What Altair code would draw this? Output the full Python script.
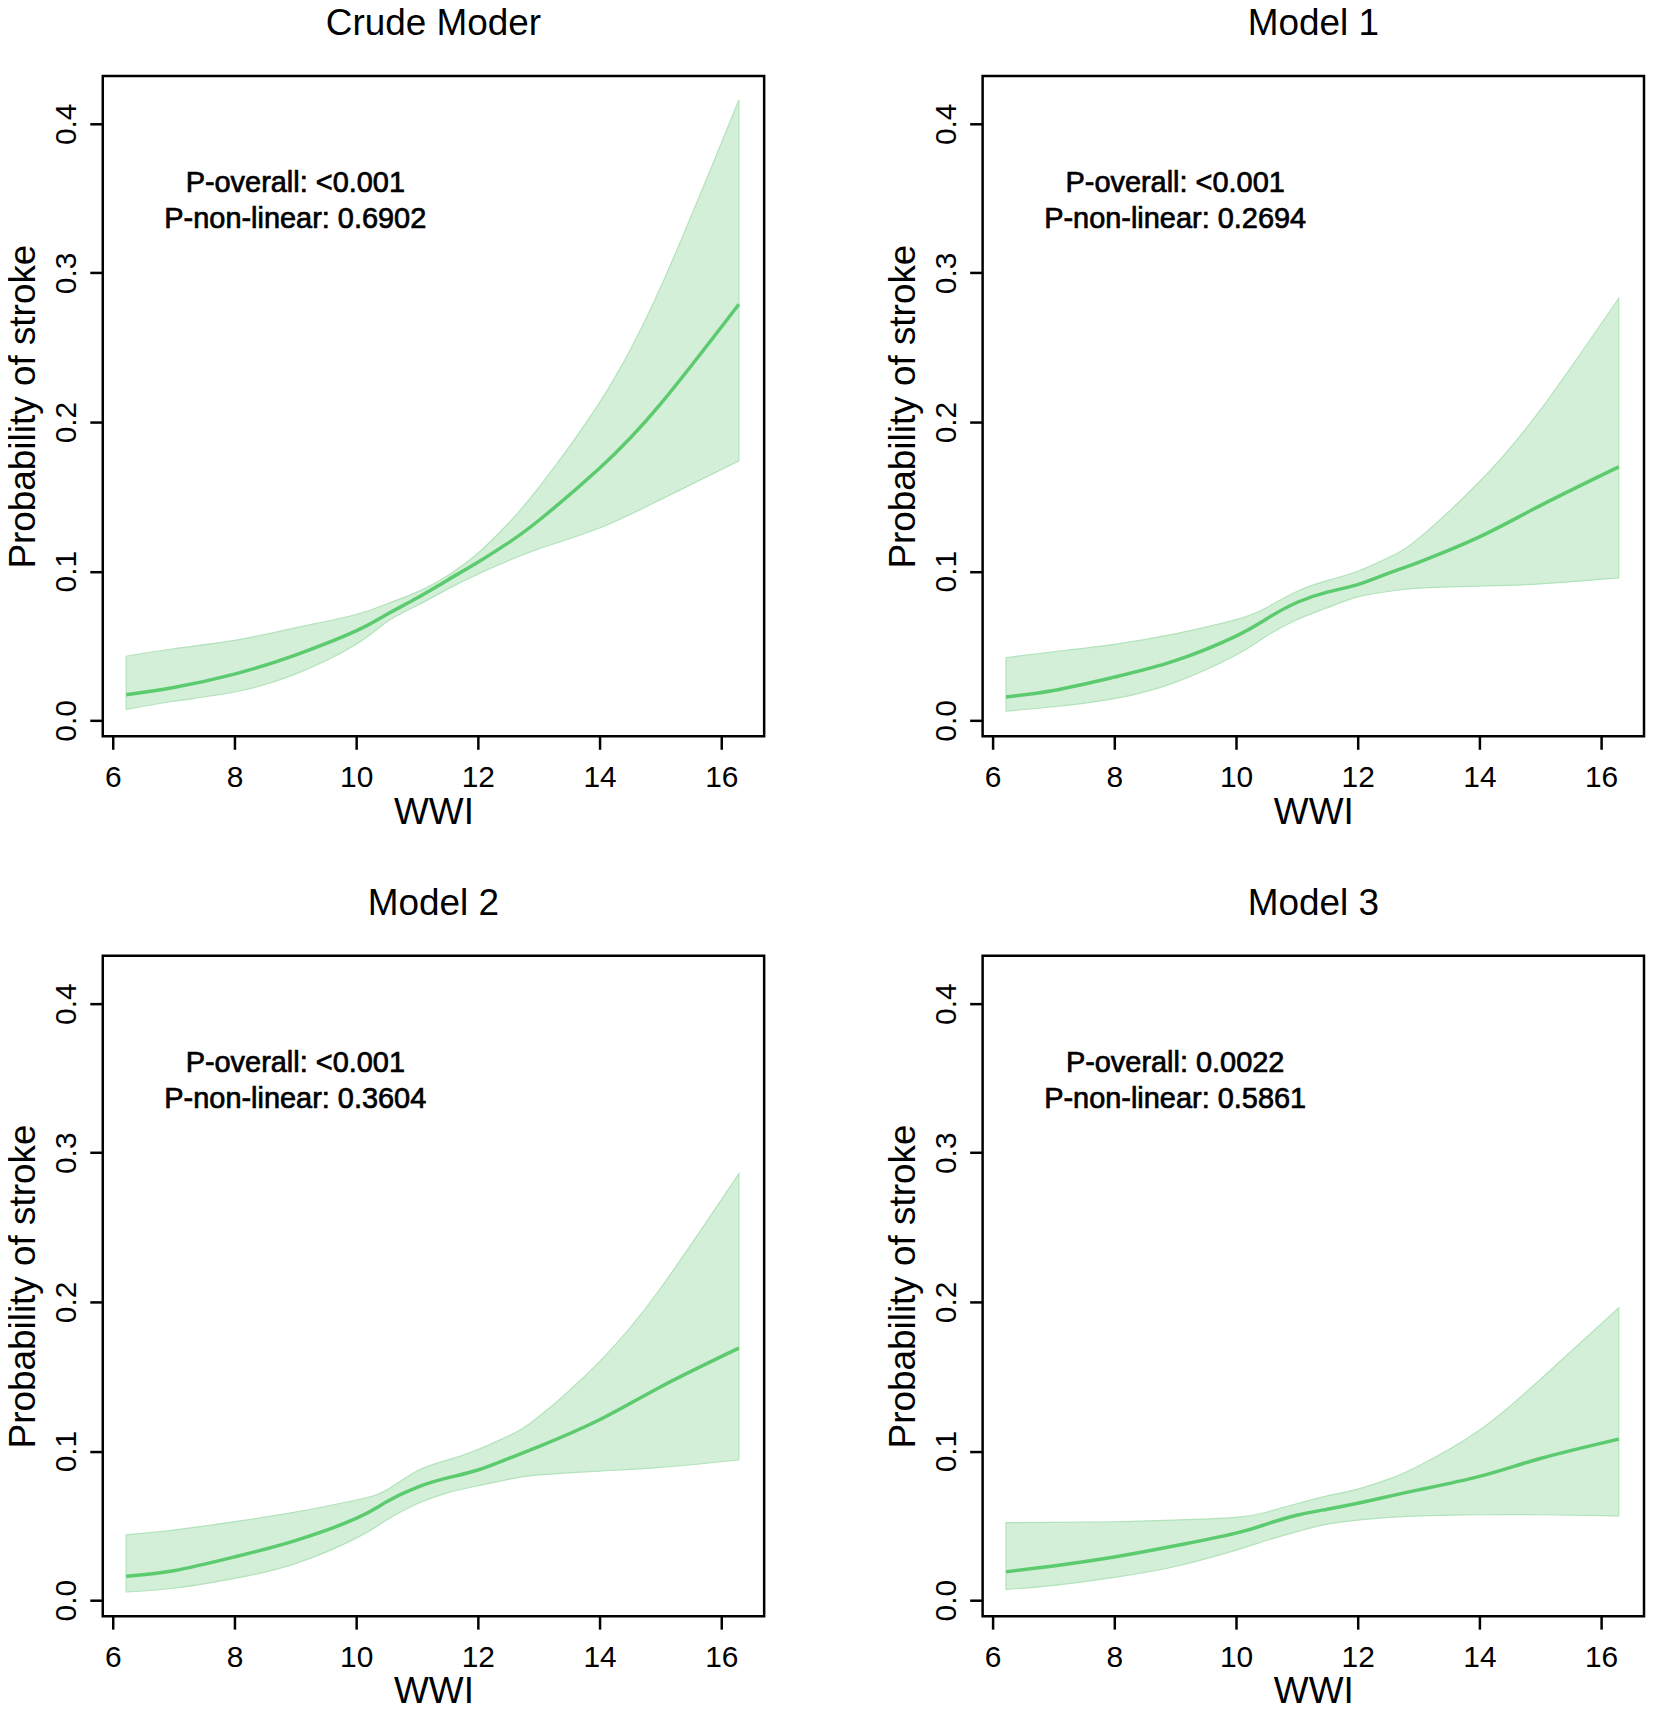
import altair as alt
import pandas as pd

# ---------------- data ----------------
WWI = [6.22, 7, 8, 9, 10, 10.5, 11, 11.5, 12, 12.5, 13, 14, 15, 16.29]

TITLES = ["Crude Moder", "Model 1", "Model 2", "Model 3"]
P_OVERALL = ["<0.001", "<0.001", "<0.001", "0.0022"]
P_NONLINEAR = ["0.6902", "0.2694", "0.3604", "0.5861"]

crude_fit = [0.0171, 0.022, 0.031, 0.0438, 0.060, 0.071, 0.082, 0.094, 0.106, 0.119, 0.134, 0.169, 0.212, 0.279]
crude_hi = [0.043, 0.048, 0.0536, 0.062, 0.071, 0.078, 0.086, 0.097, 0.112, 0.132, 0.156, 0.213, 0.290, 0.416]
crude_lo = [0.0073, 0.0128, 0.019, 0.031, 0.051, 0.066, 0.077, 0.088, 0.098, 0.107, 0.115, 0.129, 0.148, 0.174]

m1_fit = [0.0157, 0.020, 0.029, 0.040, 0.0565, 0.068, 0.079, 0.086, 0.091, 0.0985, 0.106, 0.123, 0.144, 0.170]
m1_hi = [0.042, 0.046, 0.051, 0.058, 0.0675, 0.0755, 0.0864, 0.0937, 0.100, 0.109, 0.122, 0.160, 0.208, 0.283]
m1_lo = [0.0062, 0.0091, 0.0146, 0.0255, 0.0438, 0.0565, 0.0675, 0.0755, 0.0828, 0.0864, 0.0886, 0.090, 0.0915, 0.0955]

m2_fit = [0.016, 0.0197, 0.029, 0.040, 0.0548, 0.066, 0.0757, 0.082, 0.0873, 0.095, 0.103, 0.121, 0.143, 0.169]
m2_hi = [0.0438, 0.047, 0.0526, 0.059, 0.0672, 0.0738, 0.0866, 0.0939, 0.101, 0.110, 0.123, 0.160, 0.209, 0.286]
m2_lo = [0.0055, 0.008, 0.0146, 0.0245, 0.0416, 0.0537, 0.0647, 0.072, 0.0767, 0.081, 0.084, 0.0866, 0.089, 0.094]

m3_fit = [0.019, 0.023, 0.029, 0.0365, 0.045, 0.051, 0.057, 0.061, 0.065, 0.0695, 0.074, 0.083, 0.095, 0.108]
m3_hi = [0.052, 0.0522, 0.0526, 0.0537, 0.0555, 0.059, 0.0647, 0.070, 0.0745, 0.081, 0.090, 0.114, 0.148, 0.196]
m3_lo = [0.0073, 0.0099, 0.0153, 0.0226, 0.0336, 0.040, 0.046, 0.051, 0.0537, 0.0555, 0.0566, 0.0573, 0.0573, 0.0566]

X_TICKS = [6, 8, 10, 12, 14, 16]
Y_TICKS = [0.0, 0.1, 0.2, 0.3, 0.4]
X_DOMAIN = [5.836, 16.705]
Y_DOMAIN = [-0.0107, 0.4321]
TEXT_X = 9
TEXT_Y = 0.360

SERIES = [
    (crude_fit, crude_lo, crude_hi),
    (m1_fit, m1_lo, m1_hi),
    (m2_fit, m2_lo, m2_hi),
    (m3_fit, m3_lo, m3_hi),
]

FONT = "Liberation Sans"
W, H = 663, 662

xscale = alt.Scale(domain=X_DOMAIN, nice=False, zero=False)
yscale = alt.Scale(domain=Y_DOMAIN, nice=False, zero=False)

xaxis = alt.Axis(
    values=X_TICKS, format="d", title="WWI", grid=False, domain=False,
    tickSize=13, tickWidth=2.5, tickColor="black",
    labelFontSize=30, labelFont=FONT, labelColor="black", labelPadding=13,
    labelFlush=False, labelOverlap=False,
    titleFontSize=37, titleFont=FONT, titleColor="black", titleFontWeight="normal",
    titleY=76, titleBaseline="middle",
)
yaxis = alt.Axis(
    values=Y_TICKS, format=".1f", title="Probability of stroke", grid=False, domain=False,
    tickSize=13, tickWidth=2.5, tickColor="black",
    labelFontSize=30, labelFont=FONT, labelColor="black", labelPadding=23,
    labelAngle=270, labelAlign="center", labelBaseline="middle",
    labelFlush=False, labelOverlap=False,
    titleFontSize=37, titleFont=FONT, titleColor="black", titleFontWeight="normal",
    titleAngle=270, titleX=-79.5, titleY=H / 2, titleAlign="center", titleBaseline="middle",
)


def panel(i):
    fit, lo, hi = SERIES[i]
    df = pd.DataFrame({"WWI": WWI, "fit": fit, "lo": lo, "hi": hi})
    base = alt.Chart(df)
    band = base.mark_area(
        color="#d3efd7", opacity=1, stroke="#b2e3bb", strokeWidth=1.2, interpolate="natural"
    ).encode(
        x=alt.X("WWI:Q", scale=xscale, axis=xaxis),
        y=alt.Y("lo:Q", scale=yscale, axis=yaxis),
        y2="hi:Q",
    )
    line = base.mark_line(color="#5ccb6f", strokeWidth=3.5, interpolate="natural").encode(
        x=alt.X("WWI:Q", scale=xscale, axis=xaxis),
        y=alt.Y("fit:Q", scale=yscale, axis=yaxis),
    )
    txt = alt.Chart(pd.DataFrame({"k": [0]})).mark_text(
        text=[f"P-overall: {P_OVERALL[i]}", f"P-non-linear: {P_NONLINEAR[i]}"],
        font=FONT, fontSize=29, fontWeight="normal", color="black",
        stroke="black", strokeWidth=0.7,
        align="center", baseline="middle", lineHeight=36,
    ).encode(x=alt.datum(TEXT_X, type="quantitative"), y=alt.datum(TEXT_Y, type="quantitative"))
    return alt.layer(band, line, txt).properties(
        width=W, height=H,
        title=alt.TitleParams(
            TITLES[i], font=FONT, fontSize=37, fontWeight="normal", color="black",
            anchor="middle", baseline="alphabetic", offset=4, frame="group",
        ),
    )


chart = alt.concat(
    panel(0), panel(1), panel(2), panel(3),
    columns=2, spacing={"row": 220, "column": 219}, bounds="flush",
    padding={"left": -5, "top": -7, "right": 0, "bottom": 0},
).configure_view(stroke="black", strokeWidth=2.5).properties(background="white")

chart.save("out.html", embed_options={"renderer": "svg", "actions": False})
